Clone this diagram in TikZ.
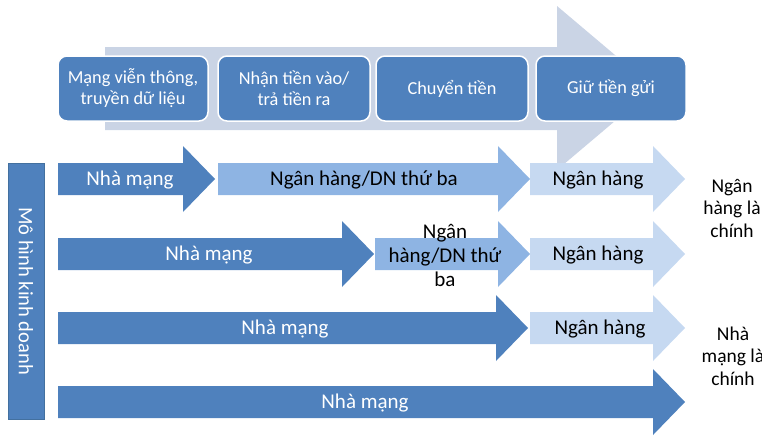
\documentclass[tikz,border=0pt]{standalone}
\usepackage{fontspec}
\setmainfont{Carlito}
\definecolor{dblue}{HTML}{4F81BD}
\definecolor{dedge}{HTML}{43709F}
\definecolor{mblue}{HTML}{8EB4E3}
\definecolor{lblue}{HTML}{C6D9F1}
\definecolor{bgarrow}{HTML}{CAD4E5}
\newcommand{\blockarrow}[4]{%
  \fill[#4] (#1,#3-16) -- (#2-32,#3-16) -- (#2-32,#3-33) -- (#2,#3) -- (#2-32,#3+33) -- (#2-32,#3+16) -- (#1,#3+16) -- cycle;}
\tikzset{
  topbox/.style={draw=white, line width=1.5pt, fill=dblue, rounded corners=9pt, minimum height=65pt, text=white, align=center, font=\fontsize{18.3}{21}\selectfont, inner sep=0pt},
  wtxt/.style={text=white, font=\fontsize{21}{24}\selectfont, inner sep=0pt},
  btxt/.style={text=black, font=\fontsize{21}{24}\selectfont, inner sep=0pt, align=center},
  sidetxt/.style={text=black, font=\fontsize{19.5}{22.5}\selectfont, inner sep=0pt, align=center}
}
\begin{document}
\begin{tikzpicture}[x=1pt,y=-1pt]
\useasboundingbox (0,0) rectangle (762,439);
\begin{scope}
\clip (0,0) rectangle (762,439);
% background process arrow
\fill[bgarrow] (105,47) -- (557,47) -- (557,6) -- (654,88) -- (557,170) -- (557,130) -- (105,130) -- cycle;
% top boxes
\node[topbox, minimum width=150pt] (b1) at (133,88.5) {Mạng viễn thông,\\truyền dữ liệu};
\node[topbox, minimum width=152pt] (b2) at (294,88.5) {Nhận tiền vào/\\trả tiền ra};
\node[topbox, minimum width=152pt] (b3) at (452,88.5) {Chuyển tiền};
\node[topbox, minimum width=150pt] (b4) at (611,88.5) {Giữ tiền gửi};
% left bar
\node[draw=dedge, line width=0.6pt, fill=dblue, minimum width=36pt, minimum height=256pt, inner sep=0pt] (bar) at (26,291) {};
\node[text=white, rotate=-90, font=\fontsize{20.5}{24}\selectfont, inner sep=0pt] (bartxt) at (bar.center) {Mô hình kinh doanh};
% row 1
\blockarrow{58}{215}{179}{dblue}
\blockarrow{218}{530}{179}{mblue}
\blockarrow{530}{685}{179}{lblue}
\node[wtxt] (r1a) at (130,180) {Nhà mạng};
\node[btxt] (r1b) at (364,180) {Ngân hàng/DN thứ ba};
\node[btxt] (r1c) at (598,180) {Ngân hàng};
% row 2
\blockarrow{58}{374}{254}{dblue}
\blockarrow{375}{530}{254}{mblue}
\blockarrow{530}{685}{254}{lblue}
\node[wtxt] (r2a) at (209,255) {Nhà mạng};
\node[btxt] (r2b) at (445,255) {Ngân\\hàng/DN thứ\\ba};
\node[btxt] (r2c) at (598,255) {Ngân hàng};
% row 3
\blockarrow{58}{528}{328}{dblue}
\blockarrow{530}{685}{328}{lblue}
\node[wtxt] (r3a) at (285,329) {Nhà mạng};
\node[btxt] (r3c) at (600,329) {Ngân hàng};
% row 4
\blockarrow{58}{685}{402}{dblue}
\node[wtxt] (r4a) at (365,403) {Nhà mạng};
% right labels
\node[sidetxt] (s1) at (732,208) {Ngân\\hàng là\\chính};
\node[sidetxt] (s2) at (733,356) {Nhà\\mạng là\\chính};
\end{scope}
\end{tikzpicture}
\end{document}
